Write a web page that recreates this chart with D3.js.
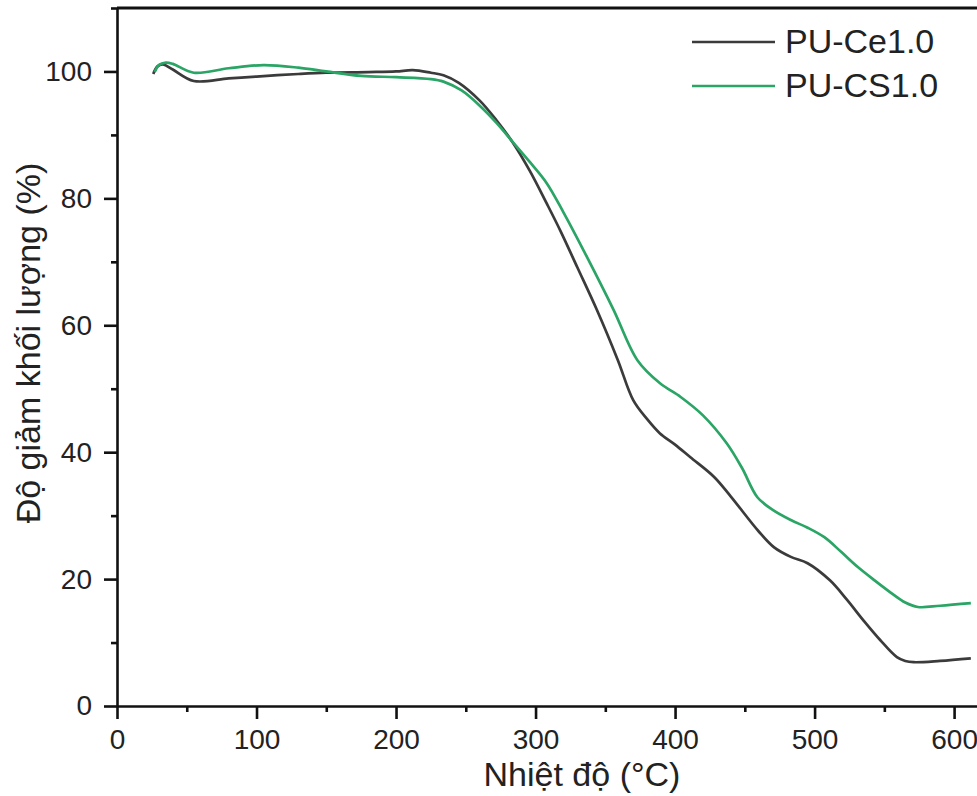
<!DOCTYPE html>
<html lang="vi">
<head>
<meta charset="utf-8">
<title>TGA PU-Ce1.0 / PU-CS1.0</title>
<script src="https://d3js.org/d3.v7.min.js"></script>
<style>
  body { margin: 0; background: #fff; }
  svg { display: block; font-family: "Liberation Sans", Arial, sans-serif; }
  .axis path, .axis line { stroke: #111; stroke-width: 2.6px; }
  .axis text { font-size: 28px; fill: #222; }
  .series { fill: none; stroke-width: 2.7px; }
</style>
</head>
<body>
<svg width="977" height="796"></svg>
<script>
// series names / colours
var seriesNames = ["PU-Ce1.0", "PU-CS1.0"];
var seriesColors = ["#3b3b3b", "#2aa565"];

// PU-Ce1.0
var tempCe = [26, 29, 33, 40, 55, 80, 100, 130, 150, 180, 200, 212, 225, 234, 245, 260, 272, 284, 296, 308, 318, 330, 344, 359, 370, 380, 389, 400, 411, 428, 440, 460, 471, 483, 495, 511, 523, 535, 547, 559, 565, 571, 590, 612];
var massCe = [99.6, 100.8, 101.1, 100.3, 98.5, 98.9, 99.2, 99.6, 99.8, 99.9, 100, 100.2, 99.8, 99.4, 98.2, 95.4, 92.3, 88.7, 84.3, 79.2, 74.8, 69.1, 62.4, 54.5, 48.2, 45.2, 43, 41.2, 39.2, 36.1, 33.0, 27.5, 25.0, 23.5, 22.5, 19.8, 16.8, 13.5, 10.4, 7.7, 7.1, 6.9, 7.1, 7.5];

// PU-CS1.0
var tempCS = [27, 30, 35, 40, 55, 80, 105, 130, 150, 175, 200, 225, 234, 247, 260, 272, 284, 296, 308, 320, 337, 356, 373, 389, 404, 420, 437, 448, 459, 470, 483, 495, 507, 519, 531, 543, 555, 565, 574, 590, 612];
var massCS = [99.9, 101, 101.4, 101.2, 99.8, 100.5, 101, 100.6, 100, 99.3, 99.1, 98.8, 98.4, 97, 94.6, 91.9, 88.8, 85.7, 82.4, 77.8, 70.7, 62.4, 54.5, 50.9, 48.7, 45.8, 41.4, 37.5, 32.9, 30.9, 29.3, 28.1, 26.6, 24.3, 21.9, 19.8, 17.8, 16.3, 15.6, 15.8, 16.2];

var xTicks = [0, 100, 200, 300, 400, 500, 600];
var xMinor = [50, 150, 250, 350, 450, 550];
var yTicks = [0, 20, 40, 60, 80, 100];
var yMinor = [10, 30, 50, 70, 90, 110];

var svg = d3.select("svg");
var pLeft = 117, pRight = 982, pTop = 8, pBottom = 706;

var x = d3.scaleLinear().domain([0, 620]).range([pLeft, pRight]);
var y = d3.scaleLinear().domain([0, 110]).range([pBottom, pTop]);

// top and right frame
svg.append("line")
  .attr("x1", pLeft).attr("x2", pRight + 2)
  .attr("y1", pTop).attr("y2", pTop)
  .attr("stroke", "#111").attr("stroke-width", 3);
svg.append("line")
  .attr("x1", pRight).attr("x2", pRight)
  .attr("y1", pTop).attr("y2", pBottom)
  .attr("stroke", "#111").attr("stroke-width", 3);

// minor ticks first
svg.append("g").attr("class", "axis")
  .attr("transform", "translate(0," + pBottom + ")")
  .call(d3.axisBottom(x).tickValues(xMinor).tickSize(6).tickFormat(""))
  .select(".domain").remove();
svg.append("g").attr("class", "axis")
  .attr("transform", "translate(" + pLeft + ",0)")
  .call(d3.axisLeft(y).tickValues(yMinor).tickSize(6).tickFormat(""))
  .select(".domain").remove();

// main axes
svg.append("g").attr("class", "axis")
  .attr("transform", "translate(0," + pBottom + ")")
  .call(d3.axisBottom(x).tickValues(xTicks).tickSize(13).tickPadding(10).tickSizeOuter(0));
svg.append("g").attr("class", "axis")
  .attr("transform", "translate(" + pLeft + ",0)")
  .call(d3.axisLeft(y).tickValues(yTicks).tickSize(13).tickPadding(12).tickSizeOuter(0));

// axis titles
svg.append("text")
  .attr("x", 582).attr("y", 786)
  .attr("text-anchor", "middle")
  .attr("font-size", 34).attr("fill", "#222")
  .text("Nhiệt độ (°C)");
svg.append("text")
  .attr("transform", "translate(40,343) rotate(-90)")
  .attr("text-anchor", "middle")
  .attr("font-size", 34).attr("fill", "#222")
  .text("Độ giảm khối lượng (%)");

// curves
var line = d3.line()
  .x(function(d) { return x(d[0]); })
  .y(function(d) { return y(d[1]); })
  .curve(d3.curveCatmullRom.alpha(0.5));

var data = [d3.zip(tempCe, massCe), d3.zip(tempCS, massCS)];

svg.selectAll(".series")
  .data(data)
  .enter().append("path")
  .attr("class", "series")
  .attr("stroke", function(d, i) { return seriesColors[i]; })
  .attr("d", line);

// legend
var legend = svg.append("g").selectAll("g")
  .data(seriesNames)
  .enter().append("g")
  .attr("transform", function(d, i) { return "translate(692," + (42 + i * 44) + ")"; });
legend.append("line")
  .attr("x1", 0).attr("x2", 83)
  .attr("stroke-width", 2.7)
  .attr("stroke", function(d, i) { return seriesColors[i]; });
legend.append("text")
  .attr("x", 93).attr("y", 11)
  .attr("font-size", 34).attr("fill", "#222")
  .text(function(d) { return d; });
</script>
</body>
</html>
